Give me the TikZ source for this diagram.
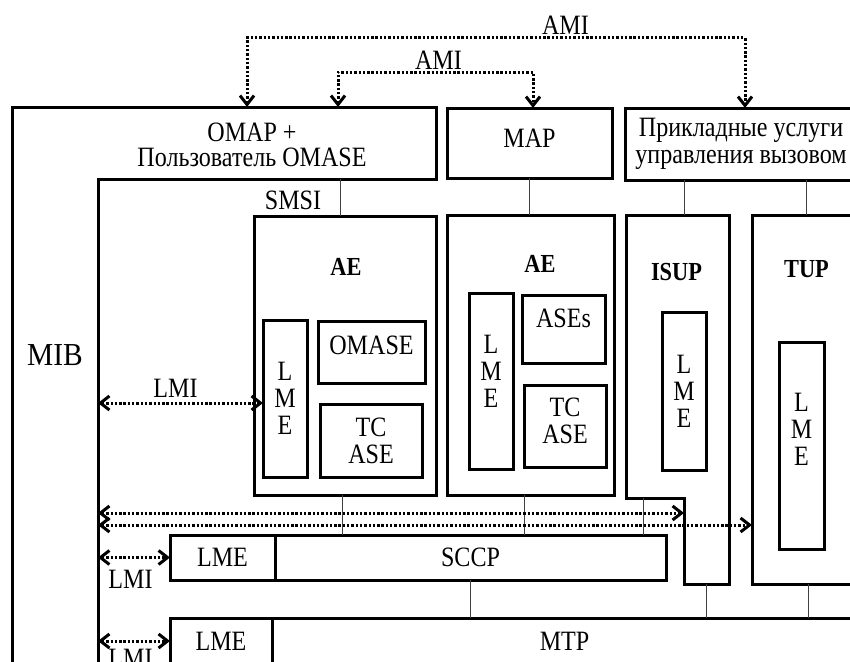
\documentclass[tikz,border=0pt]{standalone}
\usepackage{fontspec}
\setmainfont{Liberation Serif}[FakeStretch=0.86]
\newfontfamily\mibfont{Liberation Serif}[FakeStretch=0.92]
\usetikzlibrary{arrows.meta,positioning}

\begin{document}
\begin{tikzpicture}[x=1pt,y=-1pt,>={Straight Barb[length=9pt,width=14pt]},
  every node/.style={font=\fontsize{28}{27}\selectfont}]
  \tikzstyle{box}=[draw,line width=3pt,inner sep=0pt,outer sep=0pt,align=center]
  \tikzstyle{lmebox}=[box,minimum width=44pt]
  \tikzstyle{outline}=[line width=3pt]
  \tikzstyle{tie}=[line width=1pt,black!75]
  \tikzstyle{dots}=[line width=3pt,dash pattern=on 2.4pt off 1.9pt,<->]
  \tikzstyle{lbl}=[inner sep=0pt,align=center]
  \tikzstyle{lblbold}=[lbl,font=\bfseries\fontsize{26}{26}\selectfont]
  \path[use as bounding box,fill=white] (0,0) rectangle (850,661);
  \clip (0,0) rectangle (850,661);

  % MIB frame with OMAP on top
  \coordinate (omapnw) at (12,107);
  \coordinate (mibin) at (98,179);
  \draw[outline] (12,680) -- (omapnw) -- (436,107) -- (436,179) -- (mibin) -- (98,680);
  \node[lbl,font=\fontsize{28}{25.5}\selectfont] (omap) at (252,145) {OMAP +\\Пользователь OMASE};
  \node[lbl,font=\mibfont\fontsize{32}{32}\selectfont] (mib) at (55,355) {MIB};

  % upper row
  \node[box,minimum width=165pt,minimum height=70pt] (map) at (529.5,143) {};
  \node[lbl] (maptxt) at (529.5,138) {MAP};
  \node[box,minimum width=232pt,minimum height=72pt] (ctrl) at (741,144) {Прикладные услуги\\управления вызовом};

  % first AE
  \node[box,minimum width=182pt,minimum height=279pt] (ae1) at (345,355.5) {};
  \node[lblbold] (ae1lbl) at (346,267) {AE};
  \node[lmebox,minimum height=157pt] (lme1) at (285,398.5) {L\\M\\E};
  \node[box,minimum width=107pt,minimum height=62pt] (omase) at (371.5,352) {};
  \node[lbl] (omasetxt) at (371.5,345) {OMASE};
  \node[box,minimum width=102pt,minimum height=73pt] (tcase1) at (371,440.5) {TC\\ASE};

  % second AE
  \node[box,minimum width=167pt,minimum height=280pt] (ae2) at (530.5,355) {};
  \node[lblbold] (ae2lbl) at (540,264) {AE};
  \node[lmebox,minimum height=176pt] (lme2) at (491,381) {};
  \node[lbl] (lme2txt) at (491,371) {L\\M\\E};
  \node[box,minimum width=83pt,minimum height=68pt] (ases) at (563.5,329) {};
  \node[lbl] (asestxt) at (563.5,318) {ASEs};
  \node[box,minimum width=82pt,minimum height=82pt] (tcase2) at (565,426) {};
  \node[lbl] (tcase2txt) at (565,421) {TC\\ASE};

  % ISUP
  \coordinate (isupstep) at (643,498);
  \coordinate (isupfoot) at (706.5,584);
  \draw[outline] (626,215) -- (729,215) -- (729,584) -- (684,584) -- (684,498) -- (626,498) -- cycle;
  \node[lblbold] (isup) at (676.5,272) {ISUP};
  \node[lmebox,minimum height=158pt] (lme3) at (684,391) {L\\M\\E};

  % TUP
  \coordinate (tupfoot) at (808,584);
  \draw[outline] (870,215) -- (752,215) -- (752,584) -- (870,584);
  \node[lblbold] (tup) at (806.5,269) {TUP};
  \node[box,minimum width=45pt,minimum height=207pt] (lme4) at (801.5,445.5) {};
  \node[lbl] (lme4txt) at (801.5,429) {L\\M\\E};

  % SCCP and MTP
  \node[box,minimum width=105pt,minimum height=45pt] (lme5) at (222.5,557.5) {LME};
  \node[box,minimum width=391pt,minimum height=45pt,right=0pt of lme5] (sccp) {SCCP};
  \node[box,minimum width=102pt,minimum height=46pt] (lme6) at (221,641) {LME};
  \node[box,minimum width=585pt,minimum height=46pt,right=0pt of lme6] (mtp) {MTP};

  % thin links
  \node[lbl] (smsi) at (293,200) {SMSI};
  \draw[tie] ([xshift=-5pt]ae1.north) -- ([xshift=-5pt]ae1.north |- mibin);
  \draw[tie] (map.south) -- (map.south |- ae2.north);
  \draw[tie] (ctrl.south -| lme3) -- (lme3 |- ae2.north);
  \draw[tie] (ctrl.south -| tup) -- (tup |- ae2.north);
  \draw[tie] ([xshift=-3pt]ae1.south) -- ([xshift=-3pt]ae1.south |- sccp.north);
  \draw[tie] ([xshift=-6pt]ae2.south) -- ([xshift=-6pt]ae2.south |- sccp.north);
  \draw[tie] (isupstep) -- (isupstep |- sccp.north);
  \draw[tie] (sccp.south) -- (sccp.south |- mtp.north);
  \draw[tie] (isupfoot) -- (isupfoot |- mtp.north);
  \draw[tie] (tupfoot) -- (tupfoot |- mtp.north);

  % AMI
  \coordinate (amihi) at (247,38);
  \coordinate (amilo) at (338,72);
  \draw[dots] (amihi |- omapnw) -- (amihi) -| ([xshift=4pt]ctrl.north);
  \node[lbl] (ami1) at (565.5,25.5) {AMI};
  \draw[dots] (amilo |- omapnw) -- (amilo) -| ([xshift=3.5pt]map.north);
  \node[lbl] (ami2) at (438.5,60.5) {AMI};

  % LMI
  \draw[dots] ([yshift=-4.5pt]mibin |- lme1.west) -- ([yshift=-4.5pt]lme1.west);
  \node[lbl] (lmi1) at (175.5,388.5) {LMI};
  \coordinate (isupstem) at (684,513);
  \coordinate (tupedge) at (752,525);
  \draw[dots] (mibin |- isupstem) -- (isupstem);
  \draw[dots] (mibin |- tupedge) -- (tupedge);
  \draw[dots] (mibin |- lme5.west) -- (lme5.west);
  \node[lbl] (lmi2) at (130.5,579) {LMI};
  \draw[dots] (mibin |- lme6.west) -- (lme6.west);
  \node[lbl] (lmi3) at (130.5,658) {LMI};
\end{tikzpicture}
\end{document}
